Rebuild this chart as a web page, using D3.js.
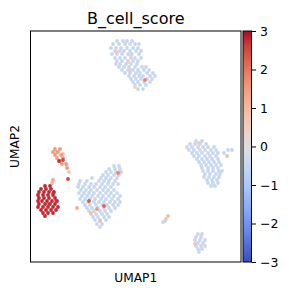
<!DOCTYPE html>
<html>
<head>
<meta charset="utf-8">
<script src="https://cdn.jsdelivr.net/npm/d3@7"></script>
<style>
  body { margin: 0; background: #fff; }
  text { font-family: "DejaVu Sans", sans-serif; fill: #000; }
</style>
</head>
<body>
<div id="chart"></div>
<script>
const width = 291, height = 292;

// UMAP rows: [umap2, [umap1 values...]] with the cluster's base score
const topCluster = [
  [25.9, [11.7, 12.3, 12.7, 13.2]],
  [25.6, [11.3, 11.9, 12.5, 13.0, 13.5, 13.9]],
  [25.2, [11.1, 11.6, 12.1, 12.7, 13.3, 13.8]],
  [24.9, [11.5, 12.0, 12.4, 13.0, 13.6, 14.1]],
  [24.6, [11.2, 11.7, 12.2, 12.8, 13.2, 13.9]],
  [24.2, [11.5, 12.0, 12.5, 13.1, 13.5, 14.1]],
  [23.9, [11.7, 12.2, 12.8, 13.3, 13.8]],
  [23.6, [11.6, 12.0, 12.6, 13.1, 13.7]],
  [23.3, [11.9, 12.4, 12.9, 13.5, 14.2, 14.6]],
  [23.0, [12.2, 12.8, 13.3, 13.8, 14.4, 14.9]],
  [22.7, [12.5, 13.0, 13.6, 14.0, 14.7, 15.3]],
  [22.4, [12.9, 13.4, 13.9, 14.3, 15.0, 15.5]],
  [22.1, [13.1, 13.6, 14.1, 14.7, 15.2]],
  [21.8, [13.3, 13.8, 14.4, 15.0]],
  [21.5, [13.5, 14.0, 14.6]],
  [21.1, [13.8, 14.3]]
];
const rightCluster = [
  [15.9, [19.6, 20.2]],
  [15.6, [19.0, 19.5, 20.0, 20.6]],
  [15.3, [18.7, 19.2, 19.8, 20.3, 20.8, 21.4]],
  [15.0, [18.9, 19.4, 20.0, 20.5, 21.1, 21.6, 22.8, 23.2]],
  [14.7, [19.2, 19.7, 20.2, 20.8, 21.3, 21.8, 22.4]],
  [14.4, [19.4, 19.9, 20.5, 21.0, 21.6]],
  [14.1, [19.7, 20.2, 20.7, 21.2, 21.8]],
  [13.8, [19.9, 20.4, 20.9, 21.4, 21.9]],
  [13.5, [20.1, 20.6, 21.1, 21.6, 22.1]],
  [13.2, [20.2, 20.8, 21.3, 21.8]],
  [12.9, [20.3, 20.8, 21.3, 21.9, 22.2]],
  [12.6, [20.5, 21.0, 21.6, 22.0]],
  [12.3, [20.4, 20.9, 21.4, 21.9]],
  [12.0, [20.7, 21.2, 21.7]],
  [11.7, [20.8, 21.3, 21.8]],
  [11.4, [21.1, 21.5]]
];
const midCluster = [
  [13.4, [11.4, 11.9]],
  [13.1, [10.9, 11.5, 12.0]],
  [12.8, [10.6, 11.1, 11.6, 12.1]],
  [12.5, [10.3, 10.8, 11.4, 11.9]],
  [12.2, [9.2, 10.1, 10.6, 11.1, 11.7]],
  [11.9, [8.0, 8.7, 9.9, 10.4, 10.9, 11.5]],
  [11.6, [7.9, 8.5, 9.1, 9.6, 10.2, 10.8, 11.3, 11.8]],
  [11.3, [7.8, 8.3, 8.9, 9.4, 10.0, 10.5, 11.1]],
  [11.0, [8.1, 8.6, 9.1, 9.7, 10.3, 10.8, 11.4]],
  [10.7, [7.9, 8.4, 8.9, 9.4, 10.0, 10.6, 11.1, 11.7]],
  [10.4, [8.2, 8.7, 9.2, 9.8, 10.3, 10.9, 11.4, 12.0]],
  [10.1, [8.0, 8.5, 9.0, 9.5, 10.1, 10.6, 11.2, 11.8]],
  [9.8, [8.3, 8.8, 9.4, 9.9, 10.4, 11.0, 11.5, 12.0]],
  [9.5, [8.5, 9.0, 9.6, 10.2, 10.7, 11.3, 11.8]],
  [9.2, [8.7, 9.2, 9.8, 10.4, 10.9, 11.5]],
  [8.9, [8.9, 9.4, 10.0, 10.5, 11.1]],
  [8.6, [9.1, 9.6, 10.2, 10.7]],
  [8.3, [9.3, 9.8, 10.4, 10.9]],
  [8.0, [9.5, 10.0, 10.6]],
  [7.6, [9.7, 10.2]],
  [7.3, [10.0]]
];
const leftCluster = [
  [11.4, [4.5, 5.0]],
  [11.1, [4.1, 4.6, 5.1]],
  [10.8, [3.9, 4.4, 4.9, 5.4]],
  [10.5, [3.8, 4.3, 4.8, 5.3]],
  [10.2, [3.9, 4.4, 4.9, 5.5]],
  [9.9, [3.8, 4.2, 4.7, 5.2, 5.7]],
  [9.6, [3.9, 4.5, 5.0, 5.5]],
  [9.3, [3.8, 4.3, 4.8, 5.3, 5.8]],
  [9.0, [4.1, 4.6, 5.1, 5.6]],
  [8.7, [4.3, 4.8, 5.3]],
  [8.4, [4.5]]
];
const upperLeftCluster = [
  [15.1, [5.5, 6.0]],
  [14.8, [5.3, 5.8]],
  [14.5, [5.5, 6.1]],
  [14.2, [5.7, 6.3]],
  [13.9, [6.0]],
  [13.6, [6.2, 6.6]],
  [13.2, [6.7]]
];
const bottomCluster = [
  [6.6, [19.8, 20.2]],
  [6.3, [19.6, 20.1]],
  [6.0, [19.5, 20.0, 20.5]],
  [5.7, [19.8, 20.3]],
  [5.4, [19.6, 20.1, 20.5]],
  [5.1, [19.8, 20.2]],
  [4.8, [19.9]]
];
const clusterScores = [-0.45, -0.45, -0.45, 2.75, 1.5, -0.45];

// single cells: [umap1, umap2, score]
const singleCells = [
  [16.3, 7.8, -0.45], [16.5, 7.9, -0.45], [16.6, 8.1, 0.7], [16.8, 8.4, 0.8],
  [14.5, 22.0, 1.8], [11.7, 24.8, 0.6], [12.8, 23.8, 0.5], [13.1, 24.5, 0.4],
  [13.0, 23.0, 0.5], [13.5, 21.3, 0.4],
  [19.9, 15.7, 0.6], [22.7, 14.4, 0.9],
  [8.9, 9.9, 2.3], [9.7, 9.1, 1.5], [9.1, 8.7, 0.8], [10.4, 9.4, 2.2],
  [7.7, 9.2, 1.2], [10.0, 7.9, 0.9], [12.0, 12.8, 0.8], [11.8, 12.7, 1.8],
  [5.3, 10.7, 2.0], [4.8, 9.6, 1.9], [5.6, 9.9, 2.1], [5.2, 11.7, 1.0], [5.3, 12.0, 1.3],
  [5.9, 13.9, 2.7], [6.3, 14.0, 2.5], [6.9, 12.8, 0.7], [6.8, 12.1, 2.5], [6.7, 13.5, -0.45],
  [5.7, 14.8, 1.1], [6.3, 14.6, 1.0],
  [19.5, 5.6, 0.7]
];

const colorTicks = [-3, -2, -1, 0, 1, 2, 3];
const coolwarm = ["#3b4cc0", "#4d68d7", "#6282ea", "#779af7", "#8db0fe", "#a3c2ff", "#b8d0f9", "#cbd9ee",
  "#dddddd", "#ecd3c5", "#f5c4ad", "#f7b194", "#f49a7b", "#ec7f63", "#de604d", "#cb3e38", "#b40426"];

const cells = [];
[topCluster, rightCluster, midCluster, leftCluster, upperLeftCluster, bottomCluster].forEach((rows, i) => {
  rows.forEach(([u2, xs]) => xs.forEach(u1 => cells.push([u1, u2, clusterScores[i]])));
});
singleCells.forEach(c => cells.push(c));
cells.sort((a, b) => a[2] - b[2]);

const plot = { left: 30.5, top: 31, right: 241, bottom: 262 };
const bar = { left: 243, right: 251.5 };

const x = d3.scaleLinear().domain([3.05, 24.1]).range([plot.left, plot.right]);
const y = d3.scaleLinear().domain([3.8, 26.9]).range([plot.bottom, plot.top]);
const color = d3.scaleSequential(d3.interpolateRgbBasis(coolwarm)).domain([-3, 3]);
const cy = d3.scaleLinear().domain([-3, 3]).range([plot.bottom, plot.top]);

const svg = d3.select("#chart").append("svg")
  .attr("width", width)
  .attr("height", height);

svg.append("g")
  .selectAll("circle")
  .data(cells)
  .enter()
  .append("circle")
  .attr("cx", d => x(d[0]))
  .attr("cy", d => y(d[1]))
  .attr("r", 1.9)
  .attr("fill", d => color(d[2]));

svg.append("rect")
  .attr("x", plot.left).attr("y", plot.top)
  .attr("width", plot.right - plot.left).attr("height", plot.bottom - plot.top)
  .attr("fill", "none").attr("stroke", "#000").attr("stroke-width", 1);

// colorbar
const grad = svg.append("defs").append("linearGradient")
  .attr("id", "cw").attr("x1", 0).attr("y1", 1).attr("x2", 0).attr("y2", 0);
coolwarm.forEach((c, i) => grad.append("stop")
  .attr("offset", i / (coolwarm.length - 1)).attr("stop-color", c));

svg.append("rect")
  .attr("x", bar.left).attr("y", plot.top)
  .attr("width", bar.right - bar.left).attr("height", plot.bottom - plot.top)
  .attr("fill", "url(#cw)").attr("stroke", "#000").attr("stroke-width", 1);

const cAxis = svg.append("g")
  .attr("transform", `translate(${bar.right},0)`)
  .call(d3.axisRight(cy).tickValues(colorTicks).tickSize(4.5).tickPadding(4)
    .tickFormat(d => d < 0 ? "\u2212" + Math.abs(d) : d));
cAxis.select(".domain").remove();
cAxis.selectAll("text").style("font-size", "12.5px").style("font-family", "DejaVu Sans");
cAxis.selectAll("line").attr("stroke", "#000");

svg.append("text")
  .attr("x", (plot.left + plot.right) / 2).attr("y", 23.5)
  .attr("text-anchor", "middle").style("font-size", "16px")
  .text("B_cell_score");

svg.append("text")
  .attr("x", (plot.left + plot.right) / 2).attr("y", 282)
  .attr("text-anchor", "middle").style("font-size", "12.2px")
  .text("UMAP1");

svg.append("text")
  .attr("transform", `translate(19,${(plot.top + plot.bottom) / 2}) rotate(-90)`)
  .attr("text-anchor", "middle").style("font-size", "12.2px")
  .text("UMAP2");
</script>
</body>
</html>
